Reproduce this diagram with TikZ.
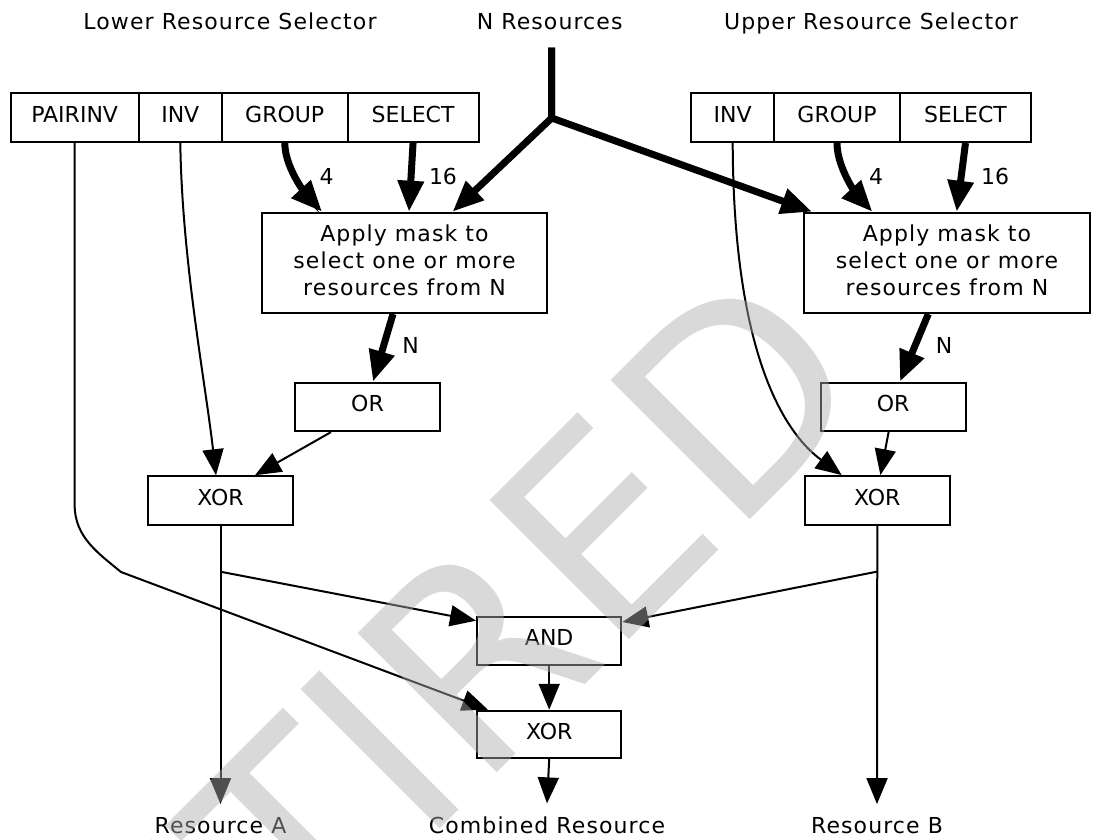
\documentclass[tikz,border=0pt]{standalone}
\usepackage{fontspec}
\setmainfont{DejaVu Sans}[LetterSpace=5]
\newfontfamily\capsfont{DejaVu Sans}
\newfontfamily\wmfont{DejaVu Sans}
\usetikzlibrary{arrows.meta}
\begin{document}
\begin{tikzpicture}[x=1pt,y=-1pt,
  font=\fontsize{22}{26.7}\selectfont,
  every node/.style={inner sep=0pt},
  field/.style={draw, line width=2pt, minimum height=49pt, text height=15.7pt, text depth=6pt, font=\capsfont\fontsize{22}{26.7}\selectfont},
  gate/.style={draw, line width=2pt, minimum width=145pt, minimum height=48.5pt, text height=15.7pt, text depth=6pt, font=\capsfont\fontsize{22}{26.7}\selectfont},
  applybox/.style={draw, line width=2pt, align=center, minimum height=100.3pt},
  lab/.style={anchor=base},
  num/.style={anchor=center, font=\capsfont\fontsize{22}{26.7}\selectfont},
  thinline/.style={line width=2pt},
  thinarrow/.style={line width=2pt, -{Triangle[length=26pt,width=21pt]}},
  thickline/.style={line width=7pt},
  thickarrow/.style={line width=7pt, -{Triangle[length=31pt,width=25pt]}},
  watermark/.style={text=black!32, text opacity=0.46, rotate=45, anchor=base east, font=\wmfont\fontsize{270}{300}\selectfont}
]
\fill[white] (0,0) rectangle (1096,840);
\useasboundingbox (0,0) rectangle (1096,840);

% titles
\node[lab] (tlower) at (230,29.3) {Lower Resource Selector};
\node[lab] (tn) at (549.7,29.3) {N Resources};
\node[lab] (tupper) at (871,29.3) {Upper Resource Selector};

% lower record
\node[field, minimum width=127.9pt] (pairinv) at (74.65,117.5) {PAIRINV};
\node[field, minimum width=83.4pt] (linv) at (180.3,117.5) {INV};
\node[field, minimum width=125.5pt] (lgroup) at (284.75,117.5) {GROUP};
\node[field, minimum width=131.1pt] (lselect) at (413.05,117.5) {SELECT};

% upper record
\node[field, minimum width=82.6pt] (uinv) at (732.7,117.5) {INV};
\node[field, minimum width=125.9pt] (ugroup) at (837,117.5) {GROUP};
\node[field, minimum width=131.2pt] (uselect) at (965.5,117.5) {SELECT};

% apply boxes
\node[applybox, minimum width=285pt] (lapply) at (404.5,262.85)
  {Apply mask to\\select one or more\\resources from N\rule[-5.2pt]{0pt}{0pt}};
\node[applybox, minimum width=286pt] (uapply) at (947,262.85)
  {Apply mask to\\select one or more\\resources from N\rule[-5.2pt]{0pt}{0pt}};

% gates
\node[gate] (lor) at (367.5,406.85) {OR};
\node[gate] (lxor) at (220.5,500.5) {XOR};
\node[gate, minimum width=144.7pt] (uor) at (893.2,406.85) {OR};
\node[gate, minimum width=144.6pt] (uxor) at (877.3,500.35) {XOR};
\node[gate, minimum width=144.4pt, minimum height=48pt] (and) at (549.2,641) {AND};
\node[gate, minimum width=144.4pt, minimum height=47.3pt] (bxor) at (549.2,734.4) {XOR};

% bottom labels
\node[lab] (resa) at (220.5,833) {Resource A};
\node[lab] (comb) at (547,833) {Combined Resource};
\node[lab] (resb) at (877,833) {Resource B};

% N resources fork
\coordinate (ntop) at (551.7,47.7);
\coordinate (fork) at (551.7,118);
\draw[thickarrow] (ntop) -- (fork) -- ([xshift=191.6pt]lapply.north west);
\draw[thickarrow] (ntop) -- (fork) -- ([xshift=9pt]uapply.north west);

% selector inputs
\draw[thickarrow] (lgroup.south) .. controls (285,172) and (313,202) .. ([xshift=61pt]lapply.north west);
\draw[thickarrow] (lselect.south) -- ([xshift=148pt]lapply.north west);
\draw[thickarrow] (ugroup.south) .. controls (837,172) and (863.3,202) .. ([xshift=69.3pt]uapply.north west);
\draw[thickarrow] (uselect.south) -- ([xshift=153.7pt]uapply.north west);
\node[num] (l4) at (326.5,176) {4};
\node[num] (l16) at (443,176) {16};
\node[num] (u4) at (876,176) {4};
\node[num] (u16) at (995,176) {16};

% apply -> OR
\draw[thickarrow] ([xshift=-11.5pt]lapply.south) -- ([xshift=5.5pt]lor.north);
\draw[thickarrow] ([xshift=-18.7pt]uapply.south) -- ([xshift=6.8pt]uor.north);
\node[num] (ln) at (410.5,345) {N};
\node[num] (un) at (944,345) {N};

% OR -> XOR
\draw[thinarrow] ([xshift=-36.5pt]lor.south) -- ([xshift=34.5pt]lxor.north);
\draw[thinarrow] ([xshift=-4.6pt]uor.south) -- ([xshift=3.1pt]uxor.north);

% INV -> XOR
\draw[thinarrow] (linv.south) .. controls (182,260) and (205,380) .. ([xshift=-4.5pt]lxor.north);
\draw[thinarrow] (uinv.south) .. controls (733.3,340) and (778,428) .. ([xshift=-35.6pt]uxor.north);

% PAIRINV -> final XOR
\draw[thinarrow] (pairinv.south) -- (74.65,505) .. controls (74.65,537) and (98,553) .. (121,572) -- ([xshift=12pt]bxor.north west);

% outputs
\coordinate (ja) at (220.4,571.7);
\coordinate (jb) at (876.7,571.7);
\draw[thinarrow] (lxor.south) -- ([yshift=12.7pt]resa.north);
\draw[thinarrow] (uxor.south) -- ([yshift=12.7pt]resb.north);
\draw[thinarrow] (ja) -- ([yshift=-4.7pt]and.north west);
\draw[thinarrow] (jb) -- ([yshift=-6pt]and.north east);
\draw[thinarrow] (and.south) -- (bxor.north);
\draw[thinarrow] (bxor.south) -- ([yshift=12.7pt]comb.north);

% watermark
\node[watermark] (wm) at (878.6,391.1) {RETIRED};
\end{tikzpicture}
\end{document}
